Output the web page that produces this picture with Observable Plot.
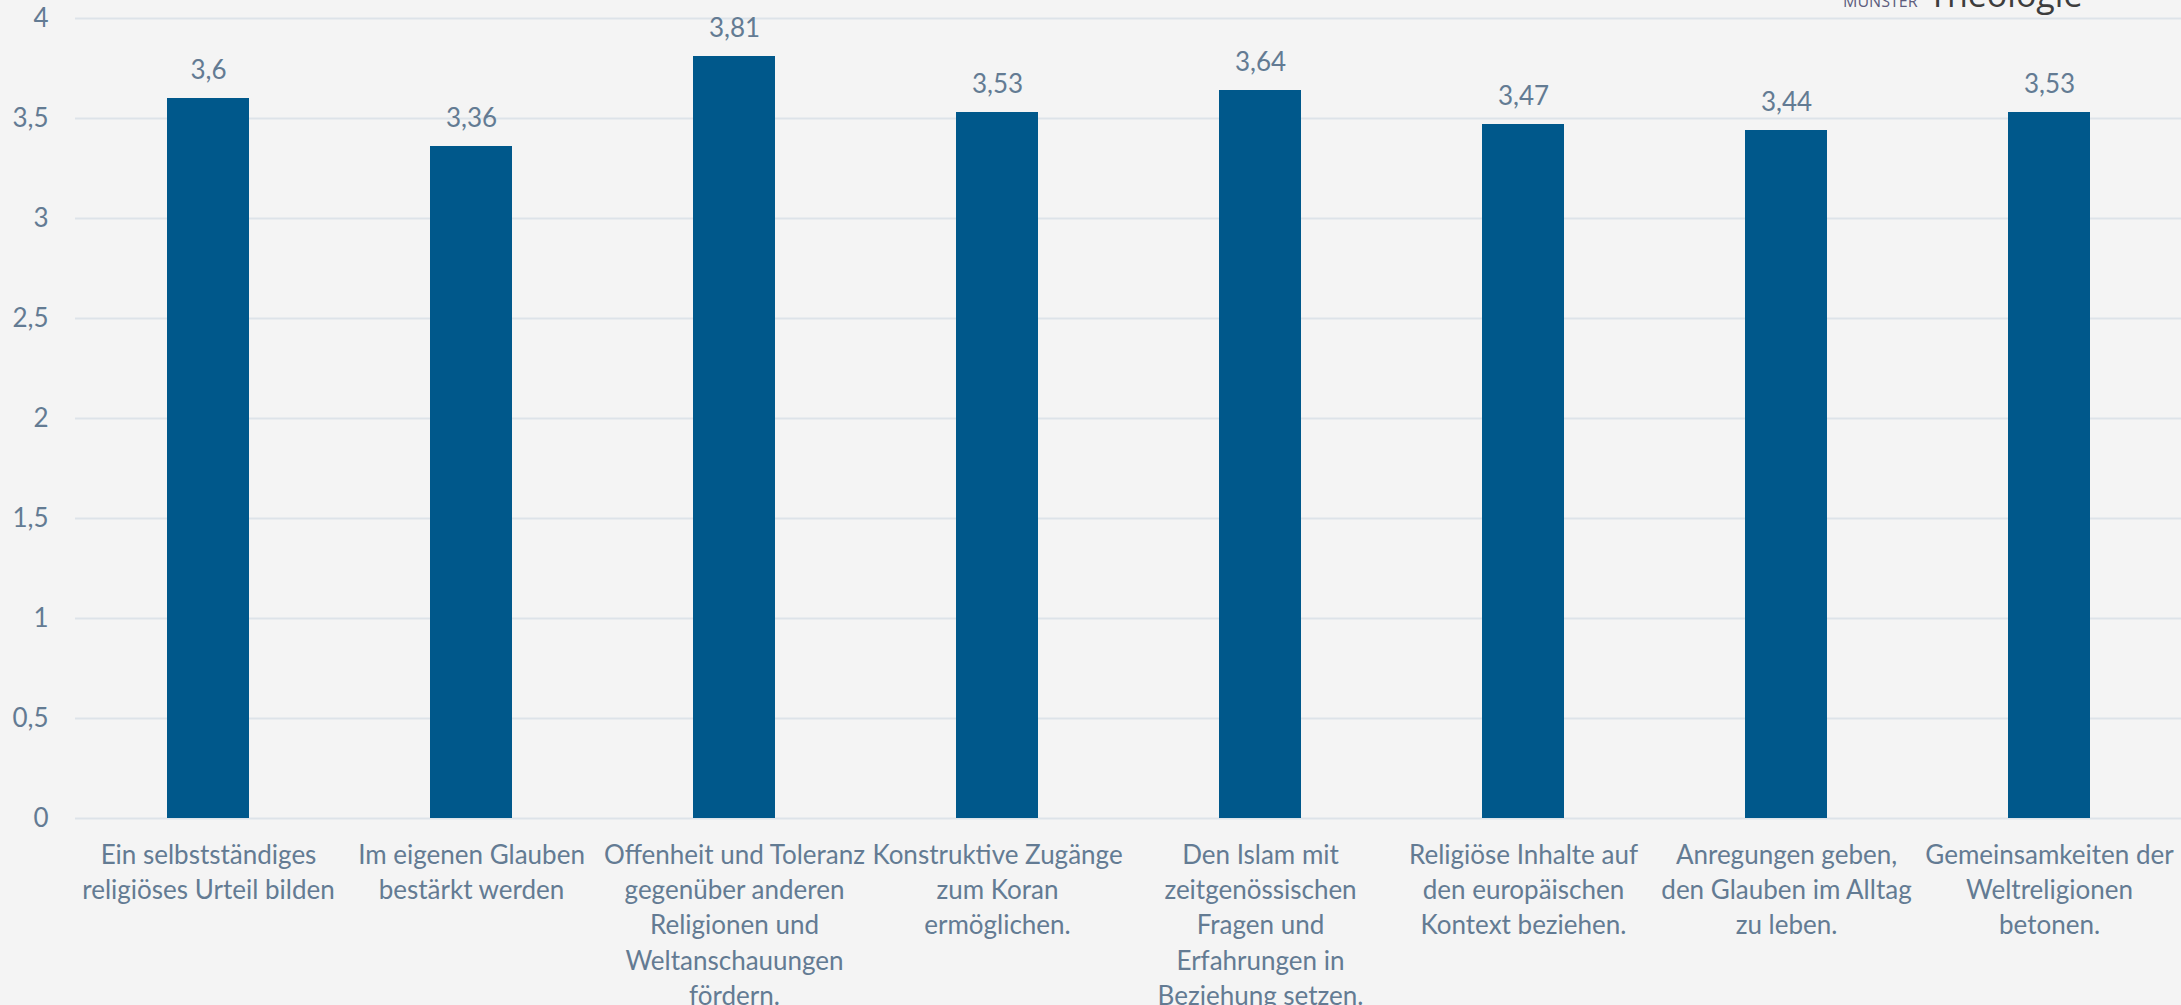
<!DOCTYPE html>
<html>
<head>
<meta charset="utf-8">
<script src="https://cdn.jsdelivr.net/npm/d3@7"></script>
<script src="https://cdn.jsdelivr.net/npm/@observablehq/plot@0.6"></script>
<style>
  html, body { margin: 0; padding: 0; background: #f4f4f4; overflow: hidden; }
  #chart svg { display: block; background: #f4f4f4; overflow: visible; }
</style>
</head>
<body>
<div id="chart"></div>
<script>
const categories = [
  "Ein selbstständiges\nreligiöses Urteil bilden",
  "Im eigenen Glauben\nbestärkt werden",
  "Offenheit und Toleranz\ngegenüber anderen\nReligionen und\nWeltanschauungen\nfördern.",
  "Konstruktive Zugänge\nzum Koran\nermöglichen.",
  "Den Islam mit\nzeitgenössischen\nFragen und\nErfahrungen in\nBeziehung setzen.",
  "Religiöse Inhalte auf\nden europäischen\nKontext beziehen.",
  "Anregungen geben,\nden Glauben im Alltag\nzu leben.",
  "Gemeinsamkeiten der\nWeltreligionen\nbetonen."
];
const values = [3.6, 3.36, 3.81, 3.53, 3.64, 3.47, 3.44, 3.53];
const yTicks = [0, 0.5, 1, 1.5, 2, 2.5, 3, 3.5, 4];

const data = categories.map((c, i) => ({category: c, value: values[i]}));
const comma = v => String(v).replace(".", ",");
const textColor = "#637b93";
const font = "Lato, 'Open Sans', sans-serif";

const chart = Plot.plot({
  width: 2181,
  height: 1005,
  marginTop: 18,
  marginBottom: 187,
  marginLeft: 75,
  marginRight: 0,
  style: {background: "#f4f4f4", fontFamily: font, color: textColor},
  x: {domain: categories, paddingInner: 0.69, paddingOuter: 0.345, axis: null},
  y: {domain: [0, 4], axis: null},
  marks: [
    Plot.ruleY(yTicks, {stroke: "#dde3e9", strokeWidth: 2}),
    Plot.text(yTicks, {
      x: null, y: d => d, text: d => comma(d), frameAnchor: "left",
      textAnchor: "end", dx: -27, fontSize: 26, fill: textColor
    }),
    Plot.barY(data, {x: "category", y: "value", fill: "#00588b"}),
    Plot.text(data, {
      x: "category", y: "value", text: d => comma(d.value),
      lineAnchor: "bottom", dy: -20, fontSize: 26, fill: textColor
    }),
    Plot.text(data, {
      x: "category", text: "category", frameAnchor: "bottom",
      lineAnchor: "top", dy: 20, lineHeight: 1.36, fontSize: 26, fill: textColor
    }),
    Plot.text(["Theologie"], {
      frameAnchor: "top-right", text: d => d, dx: -99, dy: -12,
      lineAnchor: "bottom", textAnchor: "end", fontSize: 34, fill: "#3d3d3d",
      fontFamily: "'Open Sans', sans-serif"
    }),
    Plot.text(["MÜNSTER"], {
      frameAnchor: "top-right", text: d => d, dx: -264, dy: -12,
      lineAnchor: "bottom", textAnchor: "end", fontSize: 16, fill: "#5d5d7d",
      fontFamily: "'Open Sans', sans-serif", style: "letter-spacing: 1px"
    })
  ]
});
document.getElementById("chart").appendChild(chart);
</script>
</body>
</html>
